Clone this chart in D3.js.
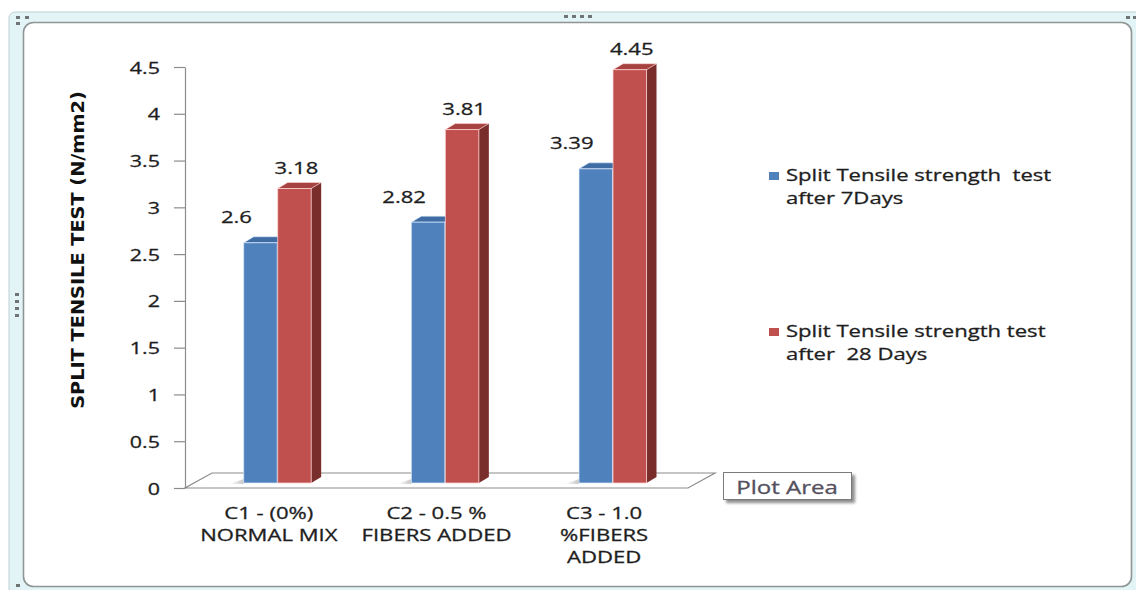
<!DOCTYPE html>
<html>
<head>
<meta charset="utf-8">
<script src="https://cdn.jsdelivr.net/npm/d3@7"></script>
<style>
html,body{margin:0;padding:0;background:#fff;}
svg{display:block;}
text{font-family:"Open Sans","DejaVu Sans",sans-serif;}
</style>
</head>
<body>
<svg id="chart" width="1136" height="590"></svg>
<script>
// ---- data ----
const categories = [["C1 - (0%)", "NORMAL MIX"], ["C2 - 0.5 %", "FIBERS ADDED"], ["C3 - 1.0", "%FIBERS", "ADDED"]];
const categoryKeys = ["C1", "C2", "C3"];
const seriesNames = [["Split Tensile strength  test", "after 7Days"], ["Split Tensile strength test", "after  28 Days"]];
const days7 = [2.6, 2.82, 3.39];
const days28 = [3.18, 3.81, 4.45];
const yTicks = [0, 0.5, 1, 1.5, 2, 2.5, 3, 3.5, 4, 4.5];
const yTitle = "SPLIT TENSILE TEST (N/mm2)";
const tooltipText = "Plot Area";

// ---- styles ----
const SX = 1.3;           // horizontal text stretch of the original picture
const colors = [
  {front: "#4f81bd", top: "#3f6ca3", side: "#2f5382", edge: "rgba(220,235,255,0.7)"},
  {front: "#c0504d", top: "#a6423f", side: "#7a2e2c", edge: "rgba(255,215,215,0.75)"}
];
const textColor = "#1e1e1e";
const axisColor = "#8c8c8c";

const svg = d3.select("#chart");
function thick(sel, c) { return sel.attr("stroke", c || textColor).attr("stroke-width", 0.3); }

// ---- frame ----
svg.append("rect").attr("x", 9).attr("y", 12).attr("width", 1140).attr("height", 600)
  .attr("rx", 6).attr("fill", "#e3f4f6").attr("stroke", "#bfd0d3").attr("stroke-width", 1);
svg.append("rect").attr("x", 23.5).attr("y", 22.5).attr("width", 1108).attr("height", 564)
  .attr("rx", 10).attr("fill", "#ffffff").attr("stroke", "#8f9494").attr("stroke-width", 1.6);
// handles
const dots = [[564,15],[572,15],[580,15],[588,15],[15,293],[15,300],[15,307],[15,314],
  [16,16],[25,16],[16,22],[16,584],[1126,16],[1133,16]];
svg.selectAll("rect.dot").data(dots).join("rect").attr("class","dot")
  .attr("x", d => d[0]).attr("y", d => d[1]).attr("width", 4).attr("height", 3)
  .attr("fill", "#6f7575");

// ---- scales ----
const x0 = 185, x1 = 688, yBase = 488, yTop = 67;
const depthX = 27, depthY = 15;
const x = d3.scaleBand().domain(categoryKeys).range([x0, x1]).paddingInner(0).paddingOuter(0);
const y = d3.scaleLinear().domain([0, 4.5]).range([yBase, yTop]);
const barW = 33.5;
const barDX = 10, barDY = 6;
const barBottom = yBase - 5;

// ---- floor ----
svg.append("path")
  .attr("d", `M${x0},${yBase} L${x1},${yBase} L${x1+depthX},${yBase-depthY} L${x0+depthX},${yBase-depthY} Z`)
  .attr("fill", "#ffffff").attr("stroke", axisColor).attr("stroke-width", 1.2);

// ---- y axis ----
const yAxis = d3.axisLeft(y).tickValues(yTicks).tickFormat(d => String(d)).tickSize(11).tickSizeOuter(0);
const gy = svg.append("g").attr("transform", `translate(${x0},0)`).call(yAxis);
gy.select(".domain").attr("stroke", axisColor).attr("stroke-width", 1.2);
gy.selectAll(".tick line").attr("stroke", axisColor).attr("stroke-width", 1.2);
thick(gy.selectAll(".tick text").attr("x", null).attr("dy", null)
  .attr("transform", `translate(-25,0) scale(${SX},1)`)
  .attr("dominant-baseline", "central")
  .attr("text-anchor", "end")
  .attr("fill", textColor).attr("font-size", 16.5).style("font-family", '"Open Sans","DejaVu Sans",sans-serif'));

// y title
svg.append("text")
  .attr("transform", `translate(78,250) rotate(-90) scale(1.3,1.05)`)
  .attr("text-anchor", "middle").attr("dominant-baseline", "central")
  .style("font-family", '"Liberation Sans Narrow","DejaVu Sans Condensed",sans-serif')
  .attr("font-weight", "bold").attr("font-size", 16.5).attr("fill", "#111")
  .text(yTitle);

// ---- floor shadows + bars ----
const series = [days7, days28];
const gb = svg.append("g");
const sh = svg.append("defs").append("linearGradient").attr("id", "fs").attr("x1", 0).attr("x2", 1);
sh.append("stop").attr("offset", 0).attr("stop-color", "#fff");
sh.append("stop").attr("offset", 1).attr("stop-color", "#b9b9b9");
categoryKeys.forEach((c, i) => {
  const bx = x(c) + x.bandwidth() * 0.35;
  gb.append("path")
    .attr("d", `M${bx-14},${barBottom+1} L${bx},${barBottom-4} L${bx},${barBottom+1} Z`)
    .attr("fill", "url(#fs)").attr("opacity", 0.8);
});
categoryKeys.forEach((c, i) => {
  series.forEach((vals, s) => {
    const v = vals[i];
    const bx = x(c) + x.bandwidth() * 0.35 + s * (barW + 0.5);
    const by = y(v) - 2;
    const col = colors[s];
    gb.append("path")
      .attr("d", `M${bx+barW},${by} L${bx+barW+barDX},${by-barDY} L${bx+barW+barDX},${barBottom-barDY} L${bx+barW},${barBottom} Z`)
      .attr("fill", col.side);
    gb.append("path")
      .attr("d", `M${bx},${by} L${bx+barDX},${by-barDY} L${bx+barW+barDX},${by-barDY} L${bx+barW},${by} Z`)
      .attr("fill", col.top).attr("stroke", col.edge).attr("stroke-width", 0.8);
    gb.append("rect")
      .attr("x", bx).attr("y", by).attr("width", barW).attr("height", barBottom - by)
      .attr("fill", col.front).attr("stroke", col.edge).attr("stroke-width", 1);
  });
});

// ---- data labels ----
categoryKeys.forEach((c, i) => {
  series.forEach((vals, s) => {
    const v = vals[i];
    const bx = x(c) + x.bandwidth() * 0.35 + s * (barW + 0.5);
    const cx = bx + barW / 2 + (s === 0 ? -24 : 2);
    const cy = y(v) - 2 - (s === 0 ? 26 : 21);
    thick(svg.append("text")
      .attr("transform", `translate(${cx},${cy}) scale(${SX},1)`)
      .attr("text-anchor", "middle").attr("dominant-baseline", "central")
      .attr("font-size", 17).attr("fill", textColor)
      .text(String(v)));
  });
});

// ---- category labels ----
categoryKeys.forEach((c, i) => {
  const cx = x(c) + x.bandwidth() / 2;
  categories[i].forEach((line, j) => {
    thick(svg.append("text")
      .attr("transform", `translate(${cx},${513 + j * 22}) scale(${SX},1)`)
      .attr("text-anchor", "middle").attr("dominant-baseline", "central")
      .attr("font-size", 17).attr("fill", textColor)
      .text(line));
  });
});

// ---- legend ----
const legendY = [175, 331];
seriesNames.forEach((lines, s) => {
  svg.append("rect").attr("x", 769).attr("y", legendY[s] - 3).attr("width", 10).attr("height", 8)
    .attr("fill", colors[s].front);
  lines.forEach((line, j) => {
    thick(svg.append("text")
      .attr("transform", `translate(786,${legendY[s] + j * 23}) scale(${SX},1)`)
      .attr("dominant-baseline", "central")
      .attr("font-size", 17).attr("fill", textColor)
      .style("white-space", "pre")
      .text(line));
  });
});

// ---- "Plot Area" tooltip ----
const defs = svg.append("defs");
const f = defs.append("filter").attr("id", "sh").attr("x", "-20%").attr("y", "-40%").attr("width", "140%").attr("height", "180%");
f.append("feGaussianBlur").attr("in", "SourceAlpha").attr("stdDeviation", 1.5);
f.append("feOffset").attr("dx", 3).attr("dy", 3).attr("result", "b");
f.append("feComponentTransfer").append("feFuncA").attr("type", "linear").attr("slope", 0.45);
const fm = f.append("feMerge");
fm.append("feMergeNode");
fm.append("feMergeNode").attr("in", "SourceGraphic");
svg.append("rect").attr("x", 723.5).attr("y", 472.5).attr("width", 128).attr("height", 27)
  .attr("fill", "#fff").attr("stroke", "#7a7a7a").attr("stroke-width", 1).attr("filter", "url(#sh)");
thick(svg.append("text")
  .attr("transform", `translate(787,487) scale(${SX},1)`)
  .attr("text-anchor", "middle").attr("dominant-baseline", "central")
  .attr("font-size", 18.5).attr("fill", "#55505e")
  .text(tooltipText), "#55505e");
</script>
</body>
</html>
